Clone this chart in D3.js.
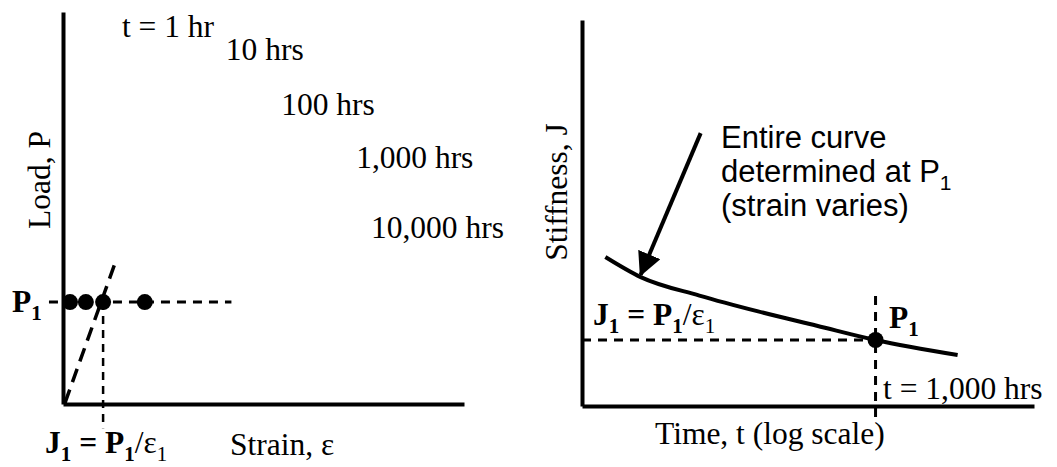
<!DOCTYPE html>
<html>
<head>
<meta charset="utf-8">
<script src="https://cdn.jsdelivr.net/npm/d3@7"></script>
<style>
  body { margin: 0; background: #fff; }
  svg text { font-family: "Liberation Serif", "Times New Roman", serif; fill: #000; }
  svg text.sans { font-family: "Liberation Sans", Arial, sans-serif; }
  .axis path { stroke: #000; stroke-width: 4; }
  .axis .tick { display: none; }
</style>
</head>
<body>
<div id="chart"></div>
<script>
// --- left panel: isochronous load / strain ---
const timeLabels = ['t = 1 hr', '10 hrs', '100 hrs', '1,000 hrs', '10,000 hrs'];
const labelStrain = [14.7, 40.6, 54.4, 73.1, 76.8];
const labelLoad = [93.6, 87.8, 73.7, 60.2, 42.3];
const p1Load = 26;
const p1Strains = [1.75, 5.7, 10, 20.4];
const eps1 = 10;
const secantStrain = [0.5, 13];
const secantLoad = [0.3, 36];

// --- right panel: stiffness vs log time at P1 ---
const curveTime = [0.025, 0.1, 1, 10, 100, 1000, 25000];
const curveStiff = [38.6, 33.4, 28.6, 24.5, 20.8, 17.1, 13.2];
const t1 = 1000;
const j1 = 17.1;
const arrowFrom = [1.05, 70.7];
const arrowTo = [0.1, 34];
const noteLines = ['Entire curve', 'determined at P', '(strain varies)'];

const W = 1057, H = 467;
const serif = 31.5, sans = 31, sub = 21;

const svg = d3.select('#chart').append('svg')
  .attr('width', W)
  .attr('height', H);

// writes text with subscripts, parts: [text, isSub, isBold]
function richText(g, x, y, parts, cls) {
  let t = g.append('text').attr('x', x).attr('y', y).style('font-size', serif + 'px');
  if (cls) t.attr('class', cls);
  let down = false;
  parts.forEach(p => {
    let s = t.append('tspan').text(p[0]);
    if (p[2]) s.style('font-weight', 'bold');
    if (p[1] && !down) { s.attr('dy', 8).style('font-size', sub + 'px'); down = true; }
    else if (p[1]) { s.style('font-size', sub + 'px'); }
    else if (down) { s.attr('dy', -8); down = false; }
  });
  return t;
}

/* ---------------- left panel ---------------- */
let xL = d3.scaleLinear().domain([0, 100]).range([63, 464]);
let yL = d3.scaleLinear().domain([0, 100]).range([404, 12]);
let gL = svg.append('g').attr('class', 'left');

gL.append('g').attr('class', 'axis')
  .attr('transform', 'translate(0,' + yL(0) + ')')
  .call(d3.axisBottom(xL).ticks(0).tickSizeOuter(0));
gL.append('g').attr('class', 'axis')
  .attr('transform', 'translate(' + xL(0) + ',0)')
  .call(d3.axisLeft(yL).ticks(0).tickSizeOuter(0));

// P1 dashed line
gL.append('line')
  .attr('x1', xL(-3.5)).attr('x2', xL(42))
  .attr('y1', yL(p1Load)).attr('y2', yL(p1Load))
  .attr('stroke', '#000').attr('stroke-width', 3)
  .attr('stroke-dasharray', '9,7');

// eps1 drop line
gL.append('line')
  .attr('x1', xL(eps1)).attr('x2', xL(eps1))
  .attr('y1', yL(p1Load)).attr('y2', yL(-6.2))
  .attr('stroke', '#000').attr('stroke-width', 2.5)
  .attr('stroke-dasharray', '8,6');

// secant
gL.append('line')
  .attr('x1', xL(secantStrain[0])).attr('y1', yL(secantLoad[0]))
  .attr('x2', xL(secantStrain[1])).attr('y2', yL(secantLoad[1]))
  .attr('stroke', '#000').attr('stroke-width', 3.5)
  .attr('stroke-dasharray', '14,8');

gL.selectAll('circle.p1')
  .data(p1Strains)
  .enter().append('circle')
  .attr('class', 'p1')
  .attr('cx', d => xL(d))
  .attr('cy', yL(p1Load))
  .attr('r', 8);

gL.selectAll('text.time')
  .data(timeLabels)
  .enter().append('text')
  .attr('class', 'time')
  .attr('x', (d, i) => xL(labelStrain[i]))
  .attr('y', (d, i) => yL(labelLoad[i]))
  .style('font-size', serif + 'px')
  .text(d => d);

gL.append('text')
  .attr('transform', 'translate(50,' + 180 + ') rotate(-90)')
  .attr('text-anchor', 'middle')
  .style('font-size', serif + 'px')
  .text('Load, P');

richText(gL, 12, 312, [['P', false, true], ['1', true, true]]);
richText(gL, 45, 453, [['J', false, true], ['1', true, true], [' = P', false, true], ['1', true, true], ['/\u03b5', false, false], ['1', true, false]]);

gL.append('text')
  .attr('x', 230).attr('y', 455)
  .style('font-size', serif + 'px')
  .text('Strain, \u03b5');

/* ---------------- right panel ---------------- */
let xR = d3.scaleLog().domain([0.01, 500000]).range([582, 1034]);
let yR = d3.scaleLinear().domain([0, 100]).range([406, 20]);
let gR = svg.append('g').attr('class', 'right');

gR.append('g').attr('class', 'axis')
  .attr('transform', 'translate(0,' + yR(0) + ')')
  .call(d3.axisBottom(xR).ticks(0).tickSizeOuter(0));
gR.append('g').attr('class', 'axis')
  .attr('transform', 'translate(' + xR.range()[0] + ',0)')
  .call(d3.axisLeft(yR).ticks(0).tickSizeOuter(0));

// J1 dashed
gR.append('line')
  .attr('x1', xR(0.01)).attr('x2', xR(t1))
  .attr('y1', yR(j1)).attr('y2', yR(j1))
  .attr('stroke', '#000').attr('stroke-width', 3)
  .attr('stroke-dasharray', '9,7');

// t1 dashed
gR.append('line')
  .attr('x1', xR(t1)).attr('x2', xR(t1))
  .attr('y1', yR(28.5)).attr('y2', yR(-3.8))
  .attr('stroke', '#000').attr('stroke-width', 3)
  .attr('stroke-dasharray', '9,7');

let line = d3.line()
  .x((d, i) => xR(curveTime[i]))
  .y(d => yR(d))
  .curve(d3.curveMonotoneX);

gR.append('path')
  .datum(curveStiff)
  .attr('d', line)
  .attr('fill', 'none')
  .attr('stroke', '#000')
  .attr('stroke-width', 4);

gR.append('circle')
  .attr('cx', xR(t1)).attr('cy', yR(j1))
  .attr('r', 8);

// arrow
svg.append('defs').append('marker')
  .attr('id', 'head')
  .attr('markerUnits', 'userSpaceOnUse')
  .attr('viewBox', '0 0 24 24')
  .attr('refX', 22).attr('refY', 12)
  .attr('markerWidth', 24).attr('markerHeight', 24)
  .attr('orient', 'auto')
  .append('path')
  .attr('d', 'M0,0 L24,12 L0,24 Z')
  .attr('fill', '#000');

gR.append('line')
  .attr('x1', xR(arrowFrom[0])).attr('y1', yR(arrowFrom[1]))
  .attr('x2', xR(arrowTo[0])).attr('y2', yR(arrowTo[1]))
  .attr('stroke', '#000').attr('stroke-width', 4)
  .attr('marker-end', 'url(#head)');

noteLines.forEach((s, i) => {
  let t = gR.append('text')
    .attr('class', 'sans')
    .attr('x', 721).attr('y', 148 + i * 34)
    .style('font-size', sans + 'px')
    .text(s);
  if (i === 1) t.append('tspan').attr('dy', 8).style('font-size', sub + 'px').text('1');
});

gR.append('text')
  .attr('transform', 'translate(567,192) rotate(-90)')
  .attr('text-anchor', 'middle')
  .style('font-size', serif + 'px')
  .text('Stiffness, J');

richText(gR, 593, 325, [['J', false, true], ['1', true, true], [' = P', false, true], ['1', true, true], ['/\u03b5', false, false], ['1', true, false]]);
richText(gR, 889, 328, [['P', false, true], ['1', true, true]]);

gR.append('text')
  .attr('x', 883).attr('y', 399)
  .style('font-size', serif + 'px')
  .text('t = 1,000 hrs');

gR.append('text')
  .attr('x', 655).attr('y', 444)
  .style('font-size', serif + 'px')
  .text('Time, t (log scale)');
</script>
</body>
</html>
